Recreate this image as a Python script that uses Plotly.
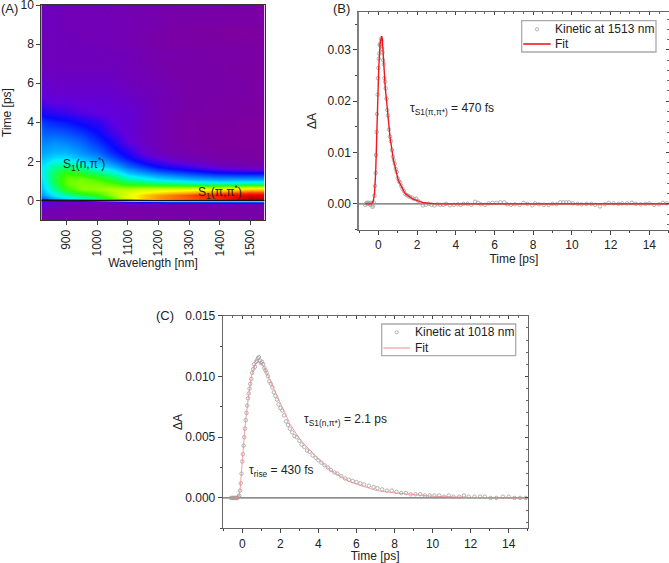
import plotly.graph_objects as go

W, H = 669, 563
FONT = "Liberation Sans"

# ---------- panel A: map of signal level ----------
wavelengths = [818, 830, 860, 900, 950, 1000, 1050, 1100, 1150, 1200, 1250, 1300, 1400, 1500, 1547]
times_map = [-1, -0.4, -0.2, -0.1, -0.03, 0.05, 0.15, 0.3, 0.6, 0.9, 1.1, 1.4, 1.7, 2.0, 2.2, 2.5, 3, 3.5, 4, 4.5, 5, 5.5, 6, 7, 7.6, 8, 8.7, 9, 10]
levels = [
    [.07, .06, .05, .05, .05, .05, .05, .05, .05, .05, .05, .05, .05, .05, .05],
    [.10, .09, .07, .07, .06, .06, .06, .05, .05, .05, .05, .05, .05, .05, .05],
    [.13, .12, .10, .09, .08, .08, .08, .08, .08, .08, .08, .08, .08, .09, .09],
    [.14, .13, .12, .11, .11, .12, .14, .17, .20, .22, .24, .24, .25, .26, .26],
    [.17, .16, .17, .18, .20, .24, .30, .36, .42, .46, .48, .50, .52, .52, .52],
    [.22, .22, .26, .30, .34, .38, .44, .52, .64, .70, .75, .78, .84, .95, .93],
    [.26, .28, .33, .37, .41, .46, .54, .64, .72, .77, .79, .81, .86, .96, .95],
    [.30, .33, .38, .43, .48, .52, .58, .66, .72, .76, .79, .82, .88, .92, .92],
    [.33, .37, .44, .52, .57, .58, .60, .60, .62, .63, .64, .65, .67, .71, .71],
    [.35, .39, .47, .55, .57, .56, .53, .49, .47, .45, .44, .42, .40, .42, .42],
    [.36, .40, .48, .55, .56, .53, .49, .43, .40, .37, .35, .33, .31, .31, .31],
    [.37, .41, .47, .52, .50, .46, .42, .35, .31, .28, .26, .24, .21, .20, .20],
    [.37, .39, .44, .46, .43, .38, .34, .28, .24, .20, .18, .16, .11, .08, .08],
    [.35, .36, .39, .40, .36, .33, .28, .23, .18, .15, .12, .10, .07, .05, .05],
    [.33, .34, .36, .36, .33, .30, .25, .20, .15, .12, .09, .08, .05, .02, .03],
    [.31, .32, .33, .33, .30, .27, .22, .18, .12, .09, .07, .06, .04, .03, .03],
    [.29, .29, .30, .29, .27, .23, .19, .13, .10, .08, .06, .05, .03, .01, .02],
    [.27, .26, .26, .25, .23, .20, .15, .12, .10, .08, .06, .04, .03, .02, .02],
    [.24, .23, .22, .21, .19, .17, .13, .12, .10, .08, .06, .04, .03, .01, .01],
    [.19, .18, .17, .16, .14, .13, .12, .12, .10, .08, .06, .05, .04, .03, .03],
    [.15, .14, .13, .13, .12, .12, .12, .11, .10, .08, .07, .05, .04, .03, .03],
    [.12, .12, .11, .11, .11, .11, .11, .10, .09, .08, .07, .05, .05, .04, .04],
    [.11, .11, .10, .10, .10, .10, .10, .09, .08, .07, .06, .05, .05, .04, .04],
    [.09, .09, .09, .09, .09, .09, .09, .08, .07, .06, .05, .05, .04, .03, .03],
    [.09, .09, .09, .09, .09, .09, .08, .08, .07, .06, .06, .05, .05, .04, .04],
    [.09, .09, .09, .09, .08, .08, .08, .07, .06, .05, .04, .04, .03, .03, .03],
    [.09, .09, .09, .08, .08, .08, .07, .07, .06, .05, .04, .03, .02, .01, .01],
    [.09, .09, .09, .08, .08, .08, .08, .07, .07, .06, .05, .05, .04, .04, .04],
    [.09, .09, .09, .08, .08, .08, .07, .07, .06, .06, .05, .05, .05, .04, .04],
]
rainbow = [
    [0.00, "#80009a"], [0.05, "#7800a8"], [0.09, "#6e00bc"], [0.13, "#6000e0"], [0.20, "#0808ff"],
    [0.30, "#0090ff"], [0.38, "#00f0ff"], [0.44, "#00ff90"], [0.52, "#30ff00"],
    [0.60, "#b8ff00"], [0.68, "#ffff00"], [0.76, "#ffa000"], [0.84, "#ff3000"],
    [0.92, "#e80000"], [1.00, "#800000"],
]

# ---------- panel B: kinetic at 1513 nm ----------
b_time = [-0.68, -0.63, -0.58, -0.54, -0.5, -0.46, -0.42, -0.38, -0.34, -0.3, -0.27, -0.24, -0.2, -0.17, -0.14, -0.12, -0.09, -0.07, -0.04, -0.02, 0.0, 0.02, 0.04, 0.07, 0.09, 0.11, 0.14, 0.16, 0.19, 0.22, 0.25, 0.28, 0.31, 0.35, 0.38, 0.42, 0.46, 0.5, 0.55, 0.6, 0.65, 0.7, 0.75, 0.8, 0.85, 0.9, 0.95, 1.0, 1.06, 1.12, 1.18, 1.25, 1.32, 1.4, 1.48, 1.56, 1.65, 1.75, 1.85, 1.95, 2.05, 2.2, 2.3, 2.45, 2.6, 2.75, 2.9, 3.05, 3.2, 3.35, 3.5, 3.7, 3.9, 4.1, 4.25, 4.4, 4.6, 4.8, 5.0, 5.15, 5.3, 5.5, 5.7, 5.9, 6.1, 6.3, 6.5, 6.65, 6.85, 7.05, 7.3, 7.5, 7.7, 7.95, 8.1, 8.3, 8.55, 8.8, 9.0, 9.2, 9.4, 9.55, 9.7, 9.85, 10.05, 10.3, 10.5, 10.75, 11.0, 11.2, 11.45, 11.7, 11.9, 12.15, 12.4, 12.6, 12.85, 13.1, 13.3, 13.55, 13.8, 14.0, 14.25, 14.5, 14.7, 14.9]
b_kin = [-0.0002, 0.0001, 0.0002, 0.0001, 0.0002, 0.0, -0.0002, 0.0002, 0.0001, -0.0006, -0.0003, 0.0003, 0.0016, 0.0035, 0.006, 0.0095, 0.014, 0.0175, 0.0213, 0.0245, 0.0265, 0.0283, 0.0293, 0.031, 0.0312, 0.0308, 0.0322, 0.0318, 0.0302, 0.0295, 0.028, 0.0272, 0.0245, 0.0238, 0.0225, 0.0205, 0.0183, 0.0172, 0.0145, 0.0131, 0.0122, 0.0105, 0.0092, 0.0085, 0.0078, 0.0068, 0.0062, 0.005, 0.0044, 0.0042, 0.0035, 0.0029, 0.0025, 0.0019, 0.0017, 0.0015, 0.0013, 0.0012, 0.0009, 0.001, 0.0006, 0.0002, -0.0003, -0.0002, 0.0, -0.0002, -0.0003, -0.0001, -0.0002, -0.0002, 0.0, -0.0003, -0.0002, -0.0001, -0.0002, 0.0, 0.0, -0.0002, 0.0004, 0.0002, -0.0001, -0.0002, 0.0001, 0.0002, 0.0002, 0.0003, 0.0003, -0.0001, -0.0002, -0.0001, -0.0002, 0.0002, 0.0, -0.0003, 0.0001, -0.0001, -0.0002, -0.0002, 0.0, -0.0001, 0.0003, 0.0003, 0.0003, 0.0003, 0.0001, 0.0, -0.0001, 0.0, 0.0, -0.0002, -0.0005, -0.0001, 0.0002, 0.0001, 0.0, 0.0001, 0.0001, 0.0002, 0.0, -0.0001, 0.0, 0.0001, -0.0002, -0.0001, 0.0002, 0.0001]
b_fit_time = [-0.68, -0.35, -0.27, -0.2, -0.14, -0.09, -0.02, 0.02, 0.09, 0.14, 0.17, 0.2, 0.26, 0.36, 0.47, 0.6, 0.78, 1.03, 1.38, 1.8, 2.33, 3.0, 4.0, 15.0]
b_fit = [0.0, 0.0, 0.0004, 0.002, 0.006, 0.0135, 0.0213, 0.0265, 0.0312, 0.0325, 0.0327, 0.0322, 0.028, 0.0225, 0.0183, 0.0131, 0.0085, 0.0046, 0.002, 0.0009, 0.0002, 0.0, 0.0, 0.0]

# ---------- panel C: kinetic at 1018 nm ----------
c_time = [-0.6, -0.55, -0.5, -0.45, -0.4, -0.35, -0.3, -0.25, -0.2, -0.16, -0.12, -0.08, -0.04, 0.0, 0.03, 0.07, 0.1, 0.14, 0.18, 0.22, 0.26, 0.3, 0.34, 0.38, 0.42, 0.47, 0.52, 0.57, 0.62, 0.67, 0.72, 0.77, 0.82, 0.87, 0.93, 0.98, 1.04, 1.1, 1.16, 1.22, 1.28, 1.35, 1.42, 1.5, 1.58, 1.66, 1.74, 1.82, 1.9, 2.0, 2.1, 2.2, 2.3, 2.4, 2.5, 2.62, 2.74, 2.86, 3.0, 3.12, 3.26, 3.4, 3.54, 3.7, 3.86, 4.0, 4.16, 4.32, 4.5, 4.66, 4.84, 5.0, 5.2, 5.4, 5.6, 5.8, 6.0, 6.2, 6.4, 6.65, 6.9, 7.1, 7.35, 7.6, 7.85, 8.1, 8.35, 8.6, 8.85, 9.1, 9.35, 9.6, 9.85, 10.1, 10.35, 10.6, 10.85, 11.1, 11.4, 11.65, 11.9, 12.2, 12.5, 12.75, 13.05, 13.35, 13.7, 14.0, 14.3, 14.6, 14.9]
c_kin = [0.0, 0.0, 0.0, 0.0, 0.0, 0.0, 0.0, 0.0, 0.0001, 0.0002, 0.0006, 0.0012, 0.002, 0.003, 0.0036, 0.0043, 0.005, 0.0057, 0.0064, 0.007, 0.0076, 0.0082, 0.0086, 0.009, 0.0094, 0.0098, 0.0103, 0.0106, 0.011, 0.0108, 0.0112, 0.0113, 0.0115, 0.0116, 0.0113, 0.0111, 0.0112, 0.011, 0.0107, 0.0105, 0.0103, 0.01, 0.0096, 0.0094, 0.0091, 0.0087, 0.0084, 0.0081, 0.0077, 0.0074, 0.0072, 0.0068, 0.0063, 0.006, 0.0057, 0.0054, 0.0051, 0.005, 0.0047, 0.0044, 0.0042, 0.0039, 0.0038, 0.0035, 0.0033, 0.0031, 0.0029, 0.0027, 0.0025, 0.0023, 0.0021, 0.002, 0.0018, 0.0016, 0.0015, 0.0014, 0.0013, 0.0012, 0.0011, 0.001, 0.0009, 0.0008, 0.0007, 0.0006, 0.0006, 0.0005, 0.0004, 0.0004, 0.0003, 0.0003, 0.0003, 0.0002, 0.0002, 0.0002, 0.0002, 0.0001, 0.0002, 0.0001, 0.0001, 0.0002, 0.0001, 0.0001, 0.0001, 0.0001, 0.0, 0.0, 0.0001, 0.0001, 0.0, 0.0, 0.0]
c_fit_time = [-0.6, -0.2, -0.12, 0.0, 0.14, 0.32, 0.49, 0.67, 0.84, 1.1, 1.46, 2.0, 2.5, 3.04, 3.56, 4.0, 4.6, 5.67, 7.07, 8.1, 10.0, 12.0, 15.0]
c_fit = [0.0, 0.0, 0.0006, 0.0031, 0.0058, 0.0083, 0.0101, 0.011, 0.0112, 0.0109, 0.0097, 0.0079, 0.0061, 0.0048, 0.0039, 0.0032, 0.0023, 0.0013, 0.0006, 0.0004, 0.00014, 0.00004, 0.0]

def dx(a, b):
    return [a / W, b / W]

def dy(top, bottom):
    return [1 - bottom / H, 1 - top / H]

TICK = dict(color="#222222", size=12, family=FONT)
MINOR = dict(ticks="outside", ticklen=2, tickcolor="#444444", tickwidth=1)

def axis(**kw):
    base = dict(showgrid=False, zeroline=False, showline=True, linewidth=1, linecolor="#666666",
                mirror=True, ticks="outside", ticklen=4, tickwidth=1, tickcolor="#444444",
                ticklabeloverflow="allow", tickfont=TICK, title_font=dict(color="#222222", size=12, family=FONT))
    base.update(kw)
    return base

def inner(**kw):
    base = dict(showgrid=False, zeroline=False, showline=False, ticks="inside", ticklen=3, tickwidth=1,
                tickcolor="#444444", showticklabels=False,
                minor=dict(ticks="inside", ticklen=2, tickcolor="#666666", tickwidth=1))
    base.update(kw)
    return base

fig = go.Figure()
fig.add_trace(go.Heatmap(x=wavelengths, y=times_map, z=levels, colorscale=rainbow, zmin=0, zmax=1,
                         zsmooth="best", showscale=False, xaxis="x", yaxis="y", hoverinfo="skip"))
fig.add_trace(go.Scatter(x=[818, 1547], y=[0, 0], mode="lines", line=dict(color="#111111", width=1.3),
                         xaxis="x", yaxis="y"))

MARK_COLOR = "#a0a0a0"
MARK = dict(symbol="circle-open", size=3.5, color=MARK_COLOR, line=dict(width=0.8, color=MARK_COLOR))
RED, SALMON = "#f0181c", "#f08a8a"

fig.add_trace(go.Scatter(x=[-1, 15], y=[0, 0], mode="lines", line=dict(color="#666666", width=1.3),
                         xaxis="x2", yaxis="y2"))
fig.add_trace(go.Scatter(x=b_time, y=b_kin, mode="markers", name="Kinetic at 1513 nm", marker=MARK,
                         xaxis="x2", yaxis="y2"))
fig.add_trace(go.Scatter(x=b_fit_time, y=b_fit, mode="lines", name="Fit", line=dict(color=RED, width=1.4),
                         xaxis="x2", yaxis="y2"))

fig.add_trace(go.Scatter(x=[-1.03, 15], y=[0, 0], mode="lines", line=dict(color="#666666", width=1.3),
                         xaxis="x3", yaxis="y3"))
fig.add_trace(go.Scatter(x=c_time, y=c_kin, mode="markers", name="Kinetic at 1018 nm", marker=MARK,
                         xaxis="x3", yaxis="y3"))
fig.add_trace(go.Scatter(x=c_fit_time, y=c_fit, mode="lines", name="Fit", line=dict(color=SALMON, width=0.8),
                         xaxis="x3", yaxis="y3"))
# empty traces that carry the inward ticks on the top and right of panels B and C
fig.add_trace(go.Scatter(x=[], y=[], xaxis="x4", yaxis="y4"))
fig.add_trace(go.Scatter(x=[], y=[], xaxis="x5", yaxis="y5"))

def note(text, x, y, size=12):
    return dict(text=text, x=x / W, y=1 - y / H, xref="paper", yref="paper", showarrow=False,
                xanchor="left", yanchor="middle", font=dict(color="#222222", size=size, family=FONT))

def box(x0, x1, y0, y1):
    return dict(type="rect", xref="paper", yref="paper", x0=x0 / W, x1=x1 / W, y0=1 - y1 / H, y1=1 - y0 / H,
                fillcolor="white", line=dict(color="#ababab", width=1.3), layer="above")

def key_line(x0, x1, y, color, width):
    return dict(type="line", xref="paper", yref="paper", x0=x0 / W, x1=x1 / W, y0=1 - y / H, y1=1 - y / H,
                line=dict(color=color, width=width), layer="above")

def key_dot(x, y):
    return dict(type="circle", xref="paper", yref="paper", x0=(x - 1.6) / W, x1=(x + 1.6) / W,
                y0=1 - (y + 1.6) / H, y1=1 - (y - 1.6) / H, fillcolor="white",
                line=dict(color=MARK_COLOR, width=0.8), layer="above")

fig.update_layout(
    width=W, height=H, autosize=False, margin=dict(l=0, r=0, t=0, b=0, autoexpand=False),
    paper_bgcolor="white", plot_bgcolor="white", showlegend=False,
    xaxis=axis(domain=dx(41.3, 264.7), range=[818, 1547], anchor="y", tickvals=[900, 1000, 1100, 1200, 1300, 1400, 1500],
               tickangle=-90, title=dict(text="Wavelength [nm]", standoff=0), linecolor="#333333"),
    yaxis=axis(domain=dy(5, 220), range=[-1, 10], anchor="x", tickvals=[0, 2, 4, 6, 8, 10],
               title=dict(text="Time [ps]", standoff=6), linecolor="#333333"),
    xaxis2=axis(domain=dx(359, 668.7), range=[-1, 15], anchor="y2", dtick=2, tick0=0, minor=dict(dtick=1, **MINOR),
                title=dict(text="Time [ps]", standoff=3)),
    yaxis2=axis(domain=dy(12, 230), range=[-0.0051, 0.0374], anchor="x2", tickvals=[0, 0.01, 0.02, 0.03], tickformat=".2f",
                minor=dict(dtick=0.005, **MINOR), linewidth=1.5, linecolor="#808080",
                title=dict(text="ΔA", standoff=8)),
    xaxis3=axis(domain=dx(222.7, 527.7), range=[-1.03, 15], anchor="y3", dtick=2, tick0=0, minor=dict(dtick=1, **MINOR),
                title=dict(text="Time [ps]", standoff=4)),
    yaxis3=axis(domain=dy(315.7, 528.3), range=[-0.0025, 0.015], anchor="x3", tickvals=[0, 0.005, 0.01, 0.015], tickformat=".3f",
                minor=dict(dtick=0.0025, **MINOR),
                title=dict(text="ΔA", standoff=0)),
    xaxis4=inner(domain=dx(359, 668.7), range=[-1, 15], anchor="y4", overlaying="x2", side="top", dtick=2, tick0=0),
    yaxis4=inner(domain=dy(12, 230), range=[-0.0051, 0.0374], anchor="x4", overlaying="y2", side="right", dtick=0.01, tick0=0),
    xaxis5=inner(domain=dx(222.7, 527.7), range=[-1.03, 15], anchor="y5", overlaying="x3", side="top", dtick=2, tick0=0),
    yaxis5=inner(domain=dy(315.7, 528.3), range=[-0.0025, 0.015], anchor="x5", overlaying="y3", side="right", dtick=0.005, tick0=0),
    shapes=[
        box(521.7, 656, 20.7, 52), key_dot(537, 29.3), key_line(523.3, 550.7, 44, RED, 1.6),
        box(381.7, 515.7, 324, 355.7), key_dot(396.7, 332.3), key_line(383.3, 410, 348, SALMON, 1),
    ],
    annotations=[
        note("(A)", -1, 8, 13), note("(B)", 331, 8, 13), note("(C)", 154, 315, 13),
        note("S<sub>1</sub>(n,π<sup>*</sup>)", 61, 164),
        note("S<sub>1</sub>(π,π<sup>*</sup>)", 196, 192),
        note("τ<sub>S1(π,π*)</sub> = 470 fs", 408, 109),
        note("τ<sub>S1(n,π*)</sub> = 2.1 ps", 302, 420),
        note("τ<sub>rise</sub> = 430 fs", 247, 471),
        note("Kinetic at 1513 nm", 553, 29.3), note("Fit", 553, 44),
        note("Kinetic at 1018 nm", 413, 332.3), note("Fit", 413, 348),
    ],
)
fig.write_html("out.html", config=dict(displayModeBar=False), post_script="document.body.style.margin='0';")
